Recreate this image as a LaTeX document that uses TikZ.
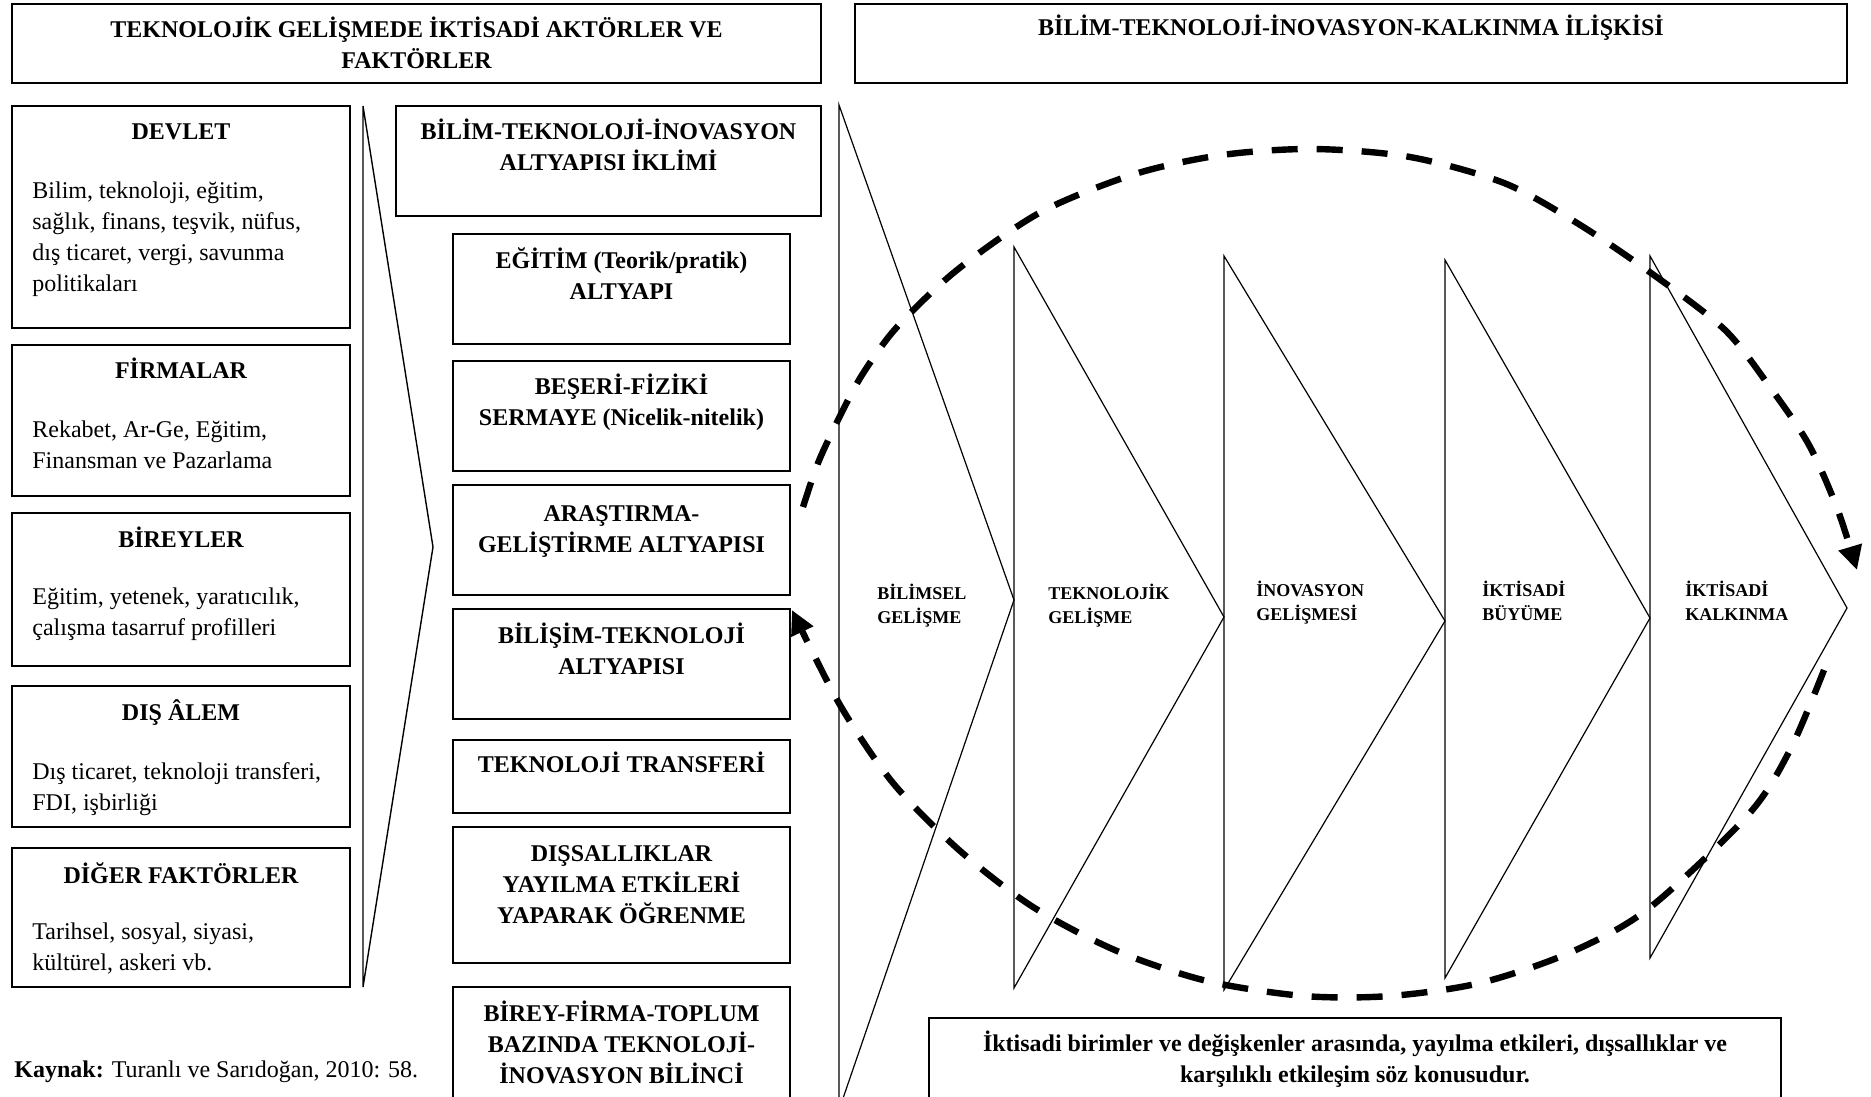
\documentclass[tikz,border=0pt]{standalone}
\usepackage{fontspec}
\setmainfont{Liberation Serif}
\usetikzlibrary{arrows.meta}

% stacked lines whose reference point is the baseline of the first line
\newcommand{\blockc}[1]{\begin{tabular}[t]{@{}c@{}}#1\end{tabular}}
\newcommand{\blockl}[1]{\begin{tabular}[t]{@{}l@{}}#1\end{tabular}}

\tikzset{
  boxline/.style={draw, line width=1pt},
  hd/.style={font=\fontsize{12}{15.5}\selectfont\bfseries, anchor=base, inner sep=0pt},
  bd/.style={font=\fontsize{12}{15.5}\selectfont, anchor=base west, inner sep=0pt},
  steptag/.style={font=\fontsize{9}{12}\selectfont\bfseries, anchor=base west, inner sep=0pt},
  chevline/.style={draw, line width=0.6pt, line join=miter},
  cycleline/.style={line width=3.2pt, dash pattern=on 13pt off 9.5pt,
    -{Triangle[width=11.5pt,length=12pt]}},
}

\begin{document}
\begin{tikzpicture}[x=0.5pt, y=-0.5pt]
\useasboundingbox (0,0) rectangle (1871,1096);
\clip (0,0) rectangle (1871,1096);
\fill[white] (0,0) rectangle (1871,1096);

% ---------- headers ----------
\draw[boxline] (12,4) rectangle (821,83);
\node[hd] (hleft) at (416.5,38) {\blockc{TEKNOLOJİK GELİŞMEDE İKTİSADİ AKTÖRLER VE\\FAKTÖRLER}};
\draw[boxline] (855,4) rectangle (1847,83);
\node[hd] (hright) at (1351,36) {BİLİM-TEKNOLOJİ-İNOVASYON-KALKINMA İLİŞKİSİ};

% ---------- actors (left column) ----------
\draw[boxline] (12,106) rectangle (350,328);
\node[hd] (tdevlet) at (181,140) {DEVLET};
\node[bd] (bdevlet) at (32,199) {\blockl{Bilim, teknoloji, eğitim,\\sağlık, finans, teşvik, nüfus,\\dış ticaret, vergi, savunma\\politikaları}};

\draw[boxline] (12,345) rectangle (350,496);
\node[hd] (tfirma) at (181,379) {FİRMALAR};
\node[bd] (bfirma) at (32,437) {\blockl{Rekabet, Ar-Ge, Eğitim,\\Finansman ve Pazarlama}};

\draw[boxline] (12,513) rectangle (350,666);
\node[hd] (tbirey) at (181,547) {BİREYLER};
\node[bd] (bbirey) at (32,604) {\blockl{Eğitim, yetenek, yaratıcılık,\\çalışma tasarruf profilleri}};

\draw[boxline] (12,686) rectangle (350,827);
\node[hd] (tdis) at (181,720) {DIŞ ÂLEM};
\node[bd] (bdis) at (32,779) {\blockl{Dış ticaret, teknoloji transferi,\\FDI, işbirliği}};

\draw[boxline] (12,848) rectangle (350,987);
\node[hd] (tdiger) at (181,883) {DİĞER FAKTÖRLER};
\node[bd] (bdiger) at (32,939) {\blockl{Tarihsel, sosyal, siyasi,\\kültürel, askeri vb.}};

\node[bd] (kaynak) at (14,1077) {\textbf{Kaynak:} Turanlı ve Sarıdoğan, 2010: 58.};

% separator chevron
\path[chevline, line width=0.7pt] (363,106) -- (433,547) -- (363,987) -- cycle;

% ---------- infrastructure (middle column) ----------
\draw[boxline] (396,106) rectangle (821,216);
\node[hd] (miklim) at (608.5,140) {\blockc{BİLİM-TEKNOLOJİ-İNOVASYON\\ALTYAPISI İKLİMİ}};

\draw[boxline] (453,234) rectangle (790,344);
\node[hd] (megitim) at (621.5,269) {\blockc{EĞİTİM (Teorik/pratik)\\ALTYAPI}};

\draw[boxline] (453,361) rectangle (790,471);
\node[hd] (mbeseri) at (621.5,394) {\blockc{BEŞERİ-FİZİKİ\\SERMAYE (Nicelik-nitelik)}};

\draw[boxline] (453,485) rectangle (790,595);
\node[hd] (marge) at (621.5,521) {\blockc{ARAŞTIRMA-\\GELİŞTİRME ALTYAPISI}};

\draw[boxline] (453,609) rectangle (790,719);
\node[hd] (mbilisim) at (621.5,643) {\blockc{BİLİŞİM-TEKNOLOJİ\\ALTYAPISI}};

\draw[boxline] (453,740) rectangle (790,813);
\node[hd] (mtransfer) at (621.5,772) {TEKNOLOJİ TRANSFERİ};

\draw[boxline] (453,827) rectangle (790,963);
\node[hd] (mdissal) at (621.5,861) {\blockc{DIŞSALLIKLAR\\YAYILMA ETKİLERİ\\YAPARAK ÖĞRENME}};

\draw[boxline] (453,987) rectangle (790,1110);
\node[hd] (mbilinc) at (621.5,1021) {\blockc{BİREY-FİRMA-TOPLUM\\BAZINDA TEKNOLOJİ-\\İNOVASYON BİLİNCİ}};

% ---------- development chain (right) ----------
\path[chevline] (839,105)  -- (1014,600) -- (839,1110) -- cycle;
\path[chevline] (1014,247) -- (1224,617) -- (1014,988) -- cycle;
\path[chevline] (1224,256) -- (1445,621) -- (1224,990) -- cycle;
\path[chevline] (1445,260) -- (1650,618) -- (1445,978) -- cycle;
\path[chevline] (1650,256) -- (1847,608) -- (1650,958) -- cycle;

\node[steptag] (cbilim)   at (877,599)  {\blockl{BİLİMSEL\\GELİŞME}};
\node[steptag] (cteknik)  at (1048,599) {\blockl{TEKNOLOJİK\\GELİŞME}};
\node[steptag] (cinov)    at (1256,596) {\blockl{İNOVASYON\\GELİŞMESİ}};
\node[steptag] (cbuyume)  at (1482,596) {\blockl{İKTİSADİ\\BÜYÜME}};
\node[steptag] (ckalkin)  at (1685,596) {\blockl{İKTİSADİ\\KALKINMA}};

\draw[boxline] (929,1018) rectangle (1781,1110);
\node[hd] (notu) at (1355,1051) {\blockc{İktisadi birimler ve değişkenler arasında, yayılma etkileri, dışsallıklar ve\\karşılıklı etkileşim söz konusudur.}};

% ---------- feedback cycle ----------
\draw[cycleline] plot[smooth] coordinates {
  (803,507) (818,463) (838,420) (862,375) (897,327) (957,270) (1041,212)
  (1135,174) (1222,155) (1313,149) (1410,157) (1504,183) (1577,223)
  (1651,273) (1725,330) (1772,390) (1809,445) (1837,508) (1857,570)};
\draw[cycleline] plot[smooth] coordinates {
  (1824,670) (1790,750) (1748,815) (1648,909) (1569,953) (1480,983)
  (1390,996) (1304,996) (1207,981) (1117,951) (1033,907) (959,850)
  (893,783) (840,705) (792,610)};
\end{tikzpicture}
\end{document}
